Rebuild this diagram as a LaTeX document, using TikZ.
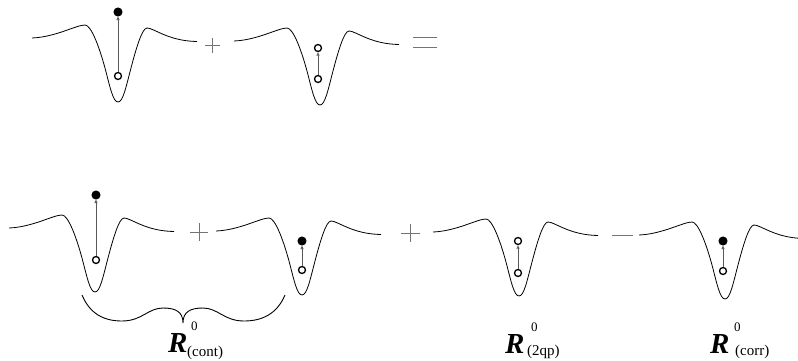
\documentclass[tikz,border=0pt]{standalone}
\usepackage{fontspec}
\newfontfamily\labfont{Liberation Serif}
\usetikzlibrary{arrows.meta}
\tikzset{
  wellcurve/.style={line width=0.8pt, black},
  opendot/.style={circle, draw=black, fill=white, line width=1.3pt, minimum size=7pt, inner sep=0pt},
  filldot/.style={circle, draw=black, fill=black, line width=1pt, minimum size=8pt, inner sep=0pt},
  stick/.style={line width=0.9pt, draw=black!65, -{Triangle[open, length=3.5pt, width=3pt, line width=0.7pt]}},
  opsign/.style={line width=0.8pt, draw=black!55},
  bigR/.style={font=\labfont\fontsize{29}{29}\selectfont\bfseries\itshape, inner sep=0pt, anchor=base west},
  supz/.style={font=\labfont\fontsize{13}{13}\selectfont, inner sep=0pt, anchor=base west},
  subl/.style={font=\labfont\fontsize{15}{15}\selectfont, inner sep=0pt, anchor=base west},
}
\newcommand{\wellat}[2]{%
  \draw[wellcurve, shift={(#1,#2)}] (-86,0) .. controls (-62,-1) and (-42,-13) .. (-33,-13)
    .. controls (-27,-13) and (-19,8) .. (-13,30)
    .. controls (-8,49) and (-5,64) .. (0,64)
    .. controls (5,64) and (8,49) .. (13,30)
    .. controls (18,11) and (24,-10) .. (29,-10)
    .. controls (36,-10) and (50,3) .. (79,3.5);}
\begin{document}
\begin{tikzpicture}[x=1pt, y=-1pt]
\useasboundingbox (0,0) rectangle (798,360);
% wells
\wellat{118}{38}
\wellat{320}{41}
\wellat{95}{228}
\wellat{302}{231}
\wellat{519}{232}
\wellat{725}{235}
% sticks
\node[filldot] (t1) at (118,12) {};
\node[opendot] (b1) at (118,76) {};
\draw[stick] (b1) -- (t1);
\node[opendot] (t2) at (318,48) {};
\node[opendot] (b2) at (318,79) {};
\draw[stick] (b2) -- (t2);
\node[filldot] (t3) at (96,195) {};
\node[opendot] (b3) at (96,260) {};
\draw[stick] (b3) -- (t3);
\node[filldot] (t4) at (302,241) {};
\node[opendot] (b4) at (302,270) {};
\draw[stick] (b4) -- (t4);
\node[opendot] (t5) at (518,241) {};
\node[opendot] (b5) at (518,273) {};
\draw[stick] (b5) -- (t5);
\node[filldot] (t6) at (723,241) {};
\node[opendot] (b6) at (723,271) {};
\draw[stick] (b6) -- (t6);
% signs
\draw[opsign] (205,45.5) -- (220,45.5) (212.5,38) -- (212.5,53);
\draw[opsign] (413,37) -- (437,37) (413,47) -- (437,47);
\draw[opsign] (190,232) -- (208,232) (199,223) -- (199,241);
\draw[opsign] (401,233) -- (420,233) (410.5,224) -- (410.5,242);
\draw[opsign] (612,235) -- (633,235);
% brace
\draw[line width=0.9pt] (82,295) .. controls (90,314) and (104,321) .. (122,321)
  .. controls (142,321) and (148,308) .. (163,308)
  .. controls (176,308) and (183,312) .. (183,323)
  .. controls (183,312) and (190,308) .. (203,308)
  .. controls (218,308) and (224,321) .. (244,321)
  .. controls (262,321) and (277,314) .. (285,295);
% labels
\node[bigR] (r1) at (168,352) {R};
\node[supz] (s1) at (191,330) {0};
\node[subl] (c1) at (187,356) {(cont)};
\node[bigR] (r2) at (505,353) {R};
\node[supz] (s2) at (531,331) {0};
\node[subl] (c2) at (527,355) {(2qp)};
\node[bigR] (r3) at (710,353) {R};
\node[supz] (s3) at (734,331) {0};
\node[subl] (c3) at (735,355) {(corr)};
\end{tikzpicture}
\end{document}
